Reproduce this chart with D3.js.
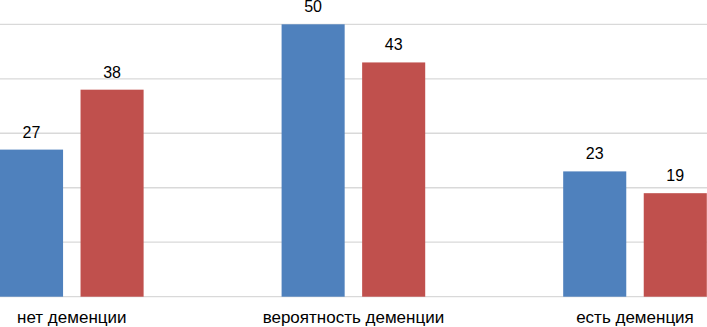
<!DOCTYPE html>
<html>
<head>
<meta charset="utf-8">
<script src="https://cdnjs.cloudflare.com/ajax/libs/d3/7.8.5/d3.min.js"></script>
<style>
  body { margin: 0; background: #fff; }
  svg { display: block; font-family: "Liberation Sans", Arial, sans-serif; }
</style>
</head>
<body>
<svg></svg>
<script>
const categories = ["нет деменции", "вероятность деменции", "есть деменция"];
const series = ["s1", "s2"];
const values1 = [27, 50, 23];
const values2 = [38, 43, 19];
const yTicks = [0, 10, 20, 30, 40, 50];

const colors = { s1: "#4f81bd", s2: "#c0504d" };

const svgWidth = 707, svgHeight = 327;

const dataset = categories.map((c, i) => ({ cat: c, s1: values1[i], s2: values2[i] }));

const svg = d3.select("svg")
  .attr("width", svgWidth)
  .attr("height", svgHeight);

// plot area is wider than the picture: the chart was cropped at both sides
const x0 = d3.scaleBand()
  .domain(categories)
  .range([-69, 775.8])
  .paddingInner(0.49)
  .paddingOuter(0.245);

const x1 = d3.scaleBand()
  .domain(series)
  .range([0, x0.bandwidth()])
  .paddingInner(0.217);

const yScale = d3.scaleLinear()
  .domain([0, 50])
  .range([296.7, 24.3]);

// gridlines
svg.append("g")
  .selectAll("line")
  .data(yTicks)
  .enter()
  .append("line")
  .attr("x1", 0)
  .attr("x2", svgWidth)
  .attr("y1", d => yScale(d))
  .attr("y2", d => yScale(d))
  .attr("stroke", "#d9d9d9")
  .attr("stroke-width", 1.3);

const groups = svg.append("g")
  .selectAll("g")
  .data(dataset)
  .enter()
  .append("g")
  .attr("transform", d => `translate(${x0(d.cat)},0)`);

groups.selectAll("rect")
  .data(d => series.map(s => ({ key: s, value: d[s] })))
  .enter()
  .append("rect")
  .attr("x", d => x1(d.key))
  .attr("y", d => yScale(d.value))
  .attr("width", x1.bandwidth())
  .attr("height", d => yScale(0) - yScale(d.value))
  .attr("fill", d => colors[d.key]);

groups.selectAll("text")
  .data(d => series.map(s => ({ key: s, value: d[s] })))
  .enter()
  .append("text")
  .attr("x", d => x1(d.key) + x1.bandwidth() / 2)
  .attr("y", d => yScale(d.value) - 12)
  .attr("text-anchor", "middle")
  .attr("font-size", "16px")
  .attr("fill", "#000")
  .text(d => d.value);

// category labels
svg.append("g")
  .selectAll("text")
  .data(categories)
  .enter()
  .append("text")
  .attr("x", d => x0(d) + x0.bandwidth() / 2)
  .attr("y", 323)
  .attr("text-anchor", "middle")
  .attr("font-size", "17px")
  .attr("fill", "#000")
  .text(d => d);
</script>
</body>
</html>
